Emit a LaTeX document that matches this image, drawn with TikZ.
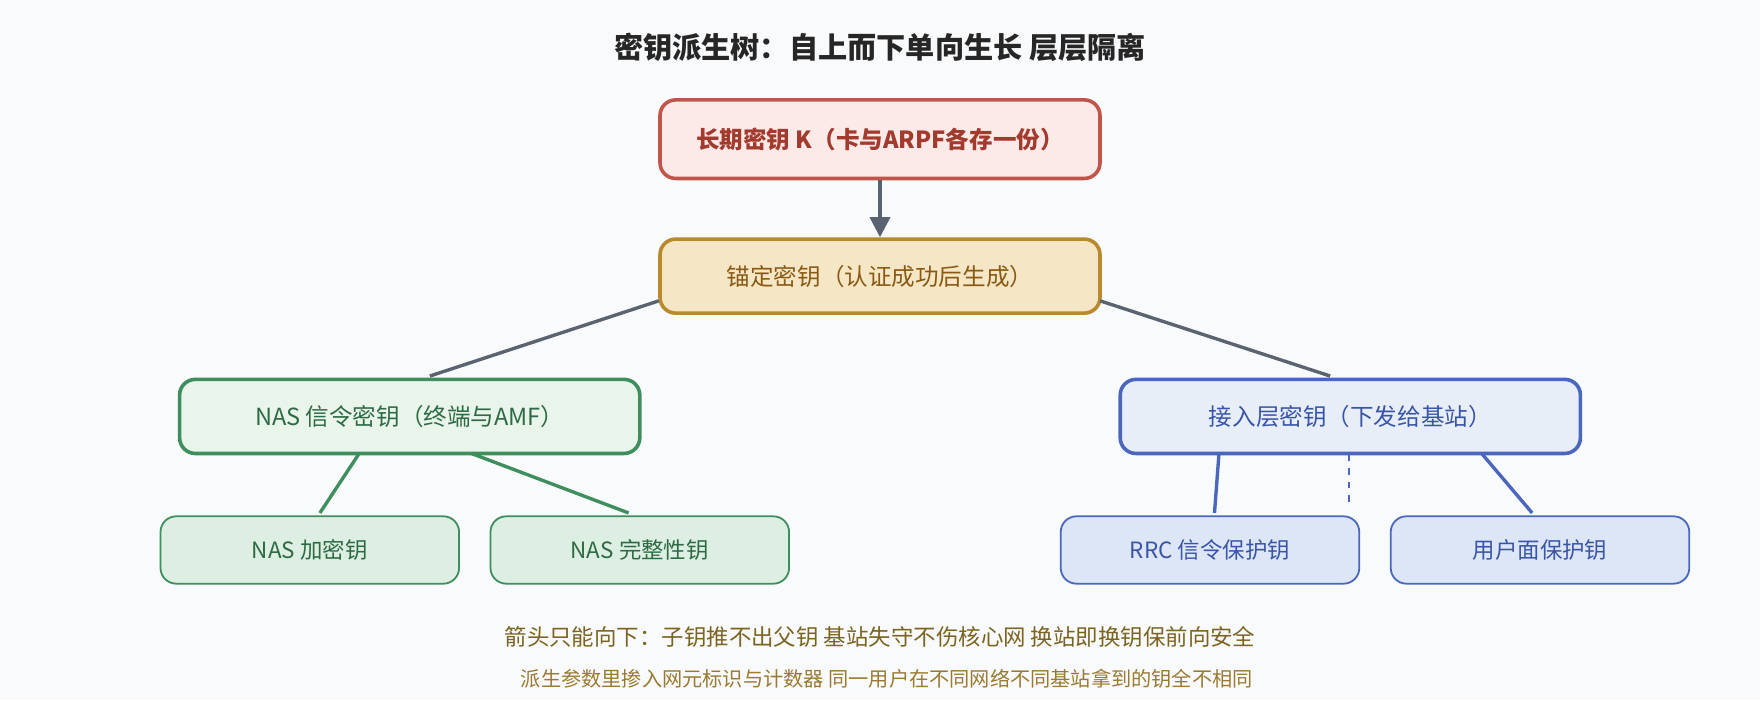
\documentclass[tikz,border=0pt]{standalone}
\usepackage{fontspec}
\setmainfont{Noto Sans CJK SC}
\usetikzlibrary{arrows.meta}
\definecolor{bg}{HTML}{F9FAFC}
\definecolor{ln}{HTML}{5A6470}
\definecolor{rF}{HTML}{FBEAE8}\definecolor{rB}{HTML}{C0564B}\definecolor{rT}{HTML}{A33A2E}
\definecolor{yF}{HTML}{F5E6C6}\definecolor{yB}{HTML}{B8892E}\definecolor{yT}{HTML}{8A5A14}
\definecolor{gF}{HTML}{E9F4EB}\definecolor{gL}{HTML}{DDEFE2}\definecolor{gB}{HTML}{3E8E5E}\definecolor{gT}{HTML}{2E6B45}
\definecolor{bF}{HTML}{E8EEF8}\definecolor{bL}{HTML}{DCE6F6}\definecolor{bB}{HTML}{4A67BD}\definecolor{bT}{HTML}{3A55A8}
\definecolor{tT}{HTML}{7A6420}\definecolor{tT2}{HTML}{9A7A30}
\begin{document}
\begin{tikzpicture}[x=0.5pt,y=-0.5pt,
 box/.style={draw,line width=1.6pt,rounded corners=7pt,minimum width=196pt,minimum height=33pt,inner sep=0pt,font=\fontsize{10.5}{12}\selectfont},
 leaf/.style={draw,line width=0.8pt,rounded corners=7pt,minimum width=133pt,minimum height=30pt,inner sep=0pt,font=\fontsize{10}{12}\selectfont},
 con/.style={ln,line width=1.5pt}]
\fill[bg] (0,0) rectangle (1568,624);
\useasboundingbox (0,0) rectangle (1568,624);
\node[font=\bfseries\fontsize{13}{15}\selectfont,text=black!85] (title) at (784,42) {密钥派生树：自上而下单向生长 层层隔离};
\node[box,fill=rF,draw=rB,text=rT,font=\bfseries\fontsize{10.5}{12}\selectfont,minimum height=35pt] (k) at (784,124) {长期密钥 K（卡与ARPF各存一份）};
\node[box,fill=yF,draw=yB,text=yT] (anc) at (784,246) {锚定密钥（认证成功后生成）};
\node[box,fill=gF,draw=gB,text=gT,minimum width=205pt] (nas) at (365,371) {NAS 信令密钥（终端与AMF）};
\node[box,fill=bF,draw=bB,text=bT,minimum width=205pt] (as) at (1203,371) {接入层密钥（下发给基站）};
\node[leaf,fill=gL,draw=gB,text=gT] (l1) at (276,490) {NAS 加密钥};
\node[leaf,fill=gL,draw=gB,text=gT] (l2) at (570,490) {NAS 完整性钥};
\node[leaf,fill=bL,draw=bB,text=bT] (l3) at (1078,490) {RRC 信令保护钥};
\node[leaf,fill=bL,draw=bB,text=bT] (l4) at (1372,490) {用户面保护钥};
\draw[con,-{Triangle[length=9pt,width=9pt]}] (k.south) -- (anc.north);
\coordinate (a1) at (587,268); \coordinate (n1) at (383,335);
\coordinate (a2) at (980,268); \coordinate (s1) at (1185,335);
\draw[con] (a1) -- (n1);
\draw[con] (a2) -- (s1);
\coordinate (n2) at (320,404); \coordinate (e1) at (285,457);
\coordinate (n3) at (420,404); \coordinate (e2) at (560,457);
\draw[gB,line width=1.5pt] (n2) -- (e1);
\draw[gB,line width=1.5pt] (n3) -- (e2);
\coordinate (s2) at (1086,404); \coordinate (e3) at (1082,457);
\coordinate (s3) at (1202,405); \coordinate (e4) at (1202,450);
\coordinate (s4) at (1320,404); \coordinate (e5) at (1365,457);
\draw[bB,line width=1.5pt] (s2) -- (e3);
\draw[bB,line width=1pt,dash pattern=on 3pt off 3pt] (s3) -- (e4);
\draw[bB,line width=1.5pt] (s4) -- (e5);
\node[text=tT,font=\fontsize{10}{12}\selectfont] (n1t) at (784,567) {箭头只能向下：子钥推不出父钥 基站失守不伤核心网 换站即换钥保前向安全};
\node[text=tT2,font=\fontsize{9}{11}\selectfont] (n2t) at (790,605) {派生参数里掺入网元标识与计数器 同一用户在不同网络不同基站拿到的钥全不相同};
\end{tikzpicture}
\end{document}
